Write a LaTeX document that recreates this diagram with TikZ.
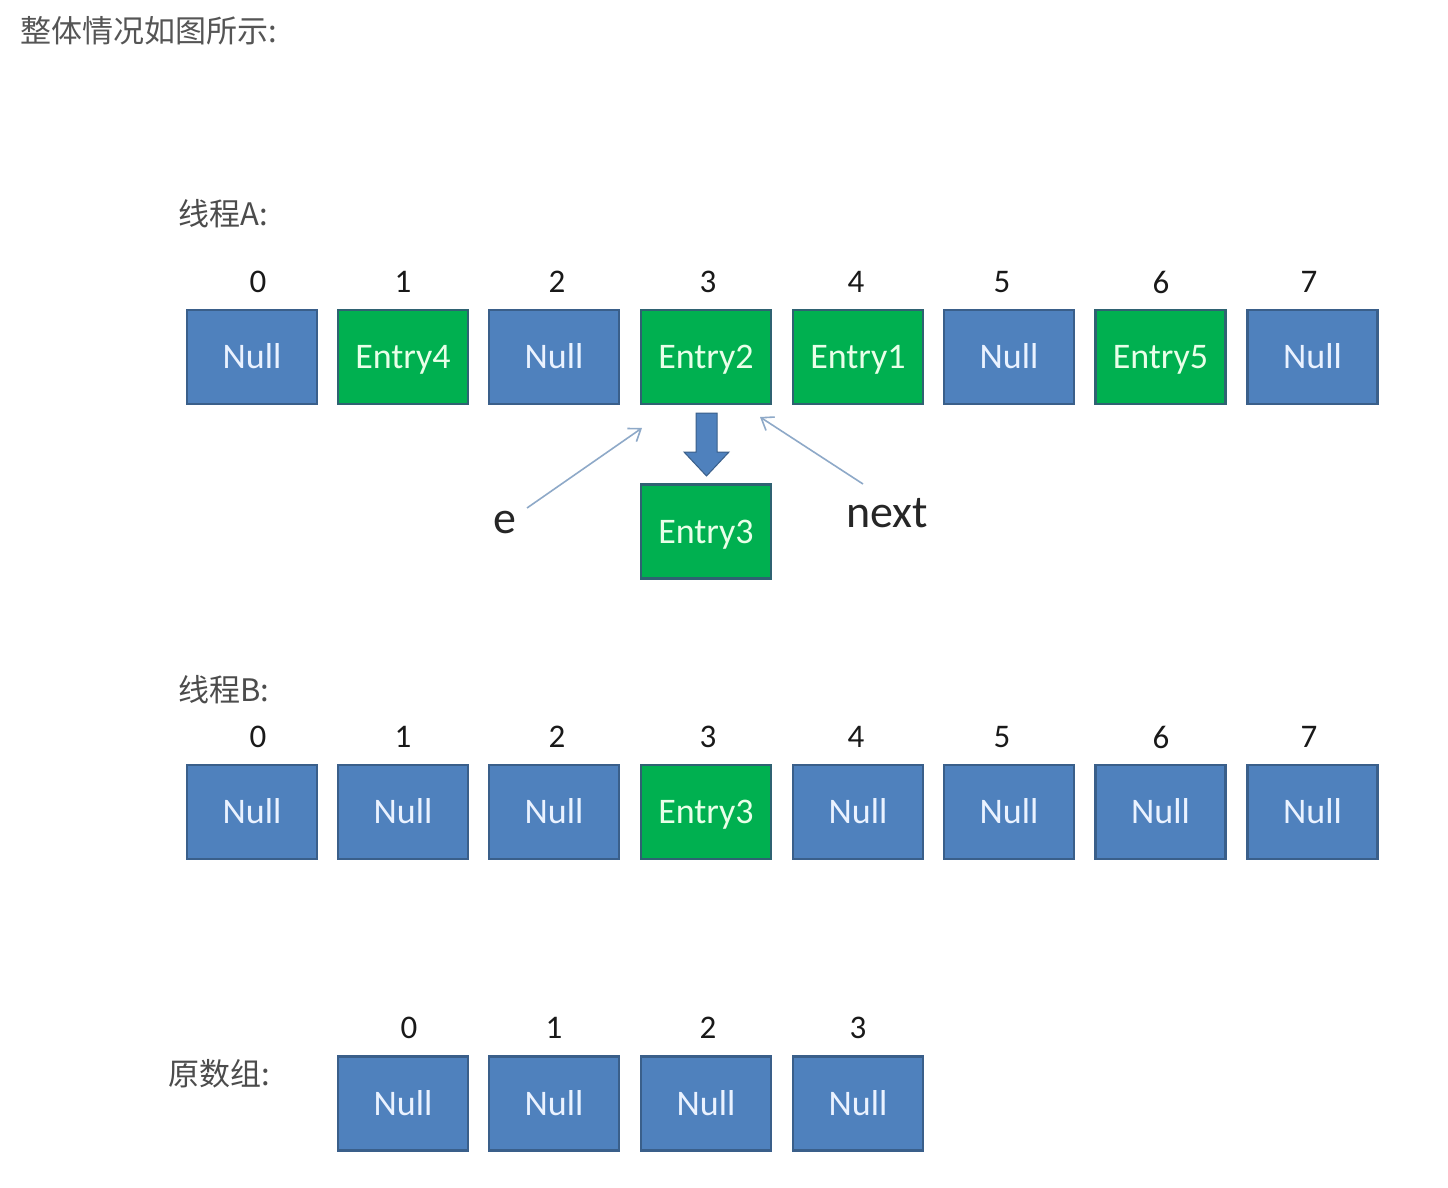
\documentclass[tikz,border=0pt]{standalone}
\usepackage{fontspec}
\setmainfont{Carlito}
\newfontfamily\cjk{Noto Sans CJK SC}
\usetikzlibrary{arrows.meta}
\definecolor{cellblue}{HTML}{4F81BD}
\definecolor{cellgreen}{HTML}{00B050}
\definecolor{blueborder}{HTML}{3A5F8A}
\definecolor{greenborder}{HTML}{2F6272}
\definecolor{bluetext}{HTML}{EAF2FF}
\definecolor{greentext}{HTML}{E8FFE8}
\definecolor{ptrline}{HTML}{8EA9C8}
\definecolor{titlegray}{HTML}{555555}
\tikzset{
  basecell/.style={line width=2.5pt, minimum width=130pt, minimum height=94pt,
    inner sep=0pt, text height=23pt, text depth=0pt,
    font=\fontsize{36}{40}\selectfont},
  bluecell/.style={basecell, draw=blueborder, fill=cellblue, text=bluetext},
  greencell/.style={basecell, draw=greenborder, fill=cellgreen, text=greentext},
  idx/.style={inner sep=0pt, text=black!90, font=\fontsize{33}{36}\selectfont},
  cjktitle/.style={inner sep=0pt, anchor=west, text=black!70, font=\cjk\fontsize{31}{36}\selectfont},
  ptrlabel/.style={inner sep=0pt, text=black!85, font=\fontsize{46}{50}\selectfont},
  ptr/.style={draw=ptrline, line width=1.6pt, -{Straight Barb[length=11pt,width=16pt]}}
}
\begin{document}
\begin{tikzpicture}[x=1pt,y=-1pt]
\useasboundingbox (0,0) rectangle (1448,1188);
\fill[white] (0,0) rectangle (1448,1188);

\node[inner sep=0pt, anchor=west, text=titlegray, font=\cjk\fontsize{31}{36}\selectfont] (title) at (20,31) {整体情况如图所示:};

% Thread A
\node[cjktitle] (ta) at (178,214) {线程A:};
\foreach \i/\x/\nx/\t/\s in {0/252/258/Null/bluecell, 1/403/403/Entry4/greencell, 2/554/557/Null/bluecell, 3/706/708/Entry2/greencell, 4/858/856/Entry1/greencell, 5/1009/1002/Null/bluecell, 6/1160.5/1161/Entry5/greencell, 7/1312.5/1309/Null/bluecell}{
  \node[\s] (a\i) at (\x,357) {\t};
  \node[idx] (ai\i) at (\nx,282) {\i};
}
\node[greencell] (a3e3) at (706,531.5) {Entry3};
\fill[cellblue, draw=blueborder, line width=1pt] (696,413) -- (717,413) -- (717,452) -- (729,452) -- (706.5,476) -- (684,452) -- (696,452) -- cycle;

\node[ptrlabel] (e) at (505,523) {e};
\node[ptrlabel] (next) at (887,513) {next};
\coordinate (etail) at (527,508);
\coordinate (ehead) at (642,428);
\coordinate (ntail) at (863,484);
\coordinate (nhead) at (760,417);
\draw[ptr] (etail) -- (ehead);
\draw[ptr] (ntail) -- (nhead);

% Thread B
\node[cjktitle] (tb) at (178,690) {线程B:};
\foreach \i/\x/\nx/\t/\s in {0/252/258/Null/bluecell, 1/403/403/Null/bluecell, 2/554/557/Null/bluecell, 3/706/708/Entry3/greencell, 4/858/856/Null/bluecell, 5/1009/1002/Null/bluecell, 6/1160.5/1161/Null/bluecell, 7/1312.5/1309/Null/bluecell}{
  \node[\s] (b\i) at (\x,812) {\t};
  \node[idx] (bi\i) at (\nx,737) {\i};
}

% Original array
\node[cjktitle] (to) at (168,1074) {原数组:};
\foreach \i/\x/\nx in {0/403/409, 1/554/554, 2/706/708, 3/858/858}{
  \node[bluecell] (o\i) at (\x,1103.5) {Null};
  \node[idx] (oi\i) at (\nx,1028) {\i};
}
\end{tikzpicture}
\end{document}
